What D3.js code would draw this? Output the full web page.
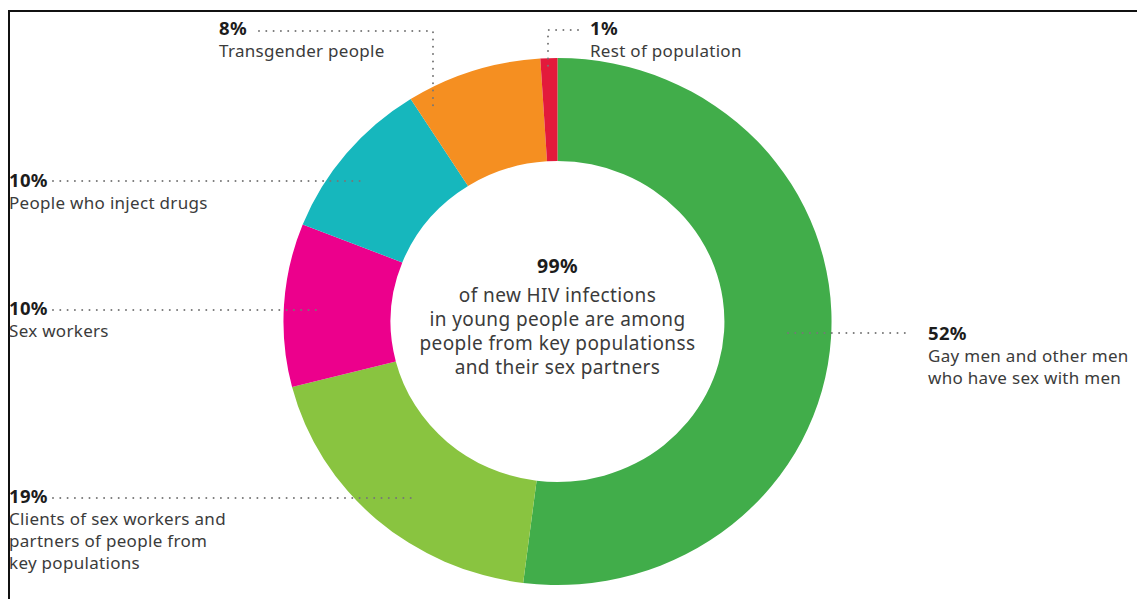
<!DOCTYPE html>
<html>
<head>
<meta charset="utf-8">
<script src="https://cdn.jsdelivr.net/npm/d3@7"></script>
<style>
  html, body { margin: 0; padding: 0; background: #fff; }
  svg { display: block; }
  text { font-family: "Noto Sans", "DejaVu Sans", sans-serif; }
</style>
</head>
<body>
<svg id="chart" width="1137" height="599"></svg>
<script>
// ---- data ----
const categories = [
  "Gay men and other men who have sex with men",
  "Clients of sex workers and partners of people from key populations",
  "Sex workers",
  "People who inject drugs",
  "Transgender people",
  "Rest of population"
];
const values = [52, 19, 10, 10, 8, 1];
const colors = ["#41ad4a", "#89c440", "#ec008c", "#16b7bd", "#f58f21", "#e31a3b"];
const labelLines = [
  ["Gay men and other men", "who have sex with men"],
  ["Clients of sex workers and", "partners of people from", "key populations"],
  ["Sex workers"],
  ["People who inject drugs"],
  ["Transgender people"],
  ["Rest of population"]
];
const centerTitle = "99%";
const centerLines = ["of new HIV infections", "in young people are among", "people from key populationss", "and their sex partners"];

// ---- layout ----
const svg = d3.select("#chart");
const cx = 557.5, cy = 321.5, outerR = 263.5, innerR = 160.5, xStretch = 1.04;

// frame lines
svg.append("line").attr("x1", 8).attr("x2", 1137).attr("y1", 11).attr("y2", 11)
  .attr("stroke", "#111").attr("stroke-width", 2);
svg.append("line").attr("x1", 9).attr("x2", 9).attr("y1", 10).attr("y2", 599)
  .attr("stroke", "#111").attr("stroke-width", 2);

const data = categories.map((c, i) => ({ cat: c, value: values[i], color: colors[i], lines: labelLines[i] }));
const pie = d3.pie().value(d => d.value).sort(null).startAngle(0).endAngle(2 * Math.PI);
const arc = d3.arc().innerRadius(innerR).outerRadius(outerR);

const g = svg.append("g").attr("transform", `translate(${cx},${cy}) scale(${xStretch},1)`);
g.selectAll("path").data(pie(data)).join("path")
  .attr("d", arc).attr("fill", d => d.data.color);

// annotation layout (label anchor + leader path), in page pixels
const annot = [
  { x: 928, y: 340, path: [[788, 333], [907, 333]] },
  { x: 9, y: 503, path: [[53, 498], [415, 498]] },
  { x: 9, y: 315, path: [[53, 310], [316, 310]] },
  { x: 9, y: 187, path: [[53, 181], [365, 181]] },
  { x: 219, y: 35, path: [[259, 31], [433, 31], [433, 106]] },
  { x: 590, y: 35, path: [[578, 30], [548, 30], [548, 66]] }
];

const line = d3.line();
const ann = svg.append("g");
data.forEach((d, i) => {
  const a = annot[i];
  ann.append("path").attr("d", line(a.path)).attr("fill", "none")
    .attr("stroke", "#777").attr("stroke-width", 2)
    .attr("stroke-dasharray", "0 7.3").attr("stroke-linecap", "round");
  ann.append("text").attr("x", a.x).attr("y", a.y)
    .attr("font-size", 18.5).attr("font-weight", 700).attr("fill", "#1c1c1c")
    .attr("letter-spacing", 0.3)
    .text(d.value + "%");
  d.lines.forEach((t, j) => {
    ann.append("text").attr("x", a.x).attr("y", a.y + 22 + j * 22)
      .attr("font-size", 17).attr("letter-spacing", 0.3).attr("fill", "#3b3b3b").text(t);
  });
});

// center text
svg.append("text").attr("x", cx).attr("y", 273).attr("text-anchor", "middle")
  .attr("font-size", 19.5).attr("font-weight", 700).attr("letter-spacing", 0.4)
  .attr("fill", "#1c1c1c").text(centerTitle);
centerLines.forEach((t, j) => {
  svg.append("text").attr("x", cx).attr("y", 302 + j * 24).attr("text-anchor", "middle")
    .attr("font-size", 19).attr("letter-spacing", 0.4).attr("fill", "#3b3b3b").text(t);
});
</script>
</body>
</html>
